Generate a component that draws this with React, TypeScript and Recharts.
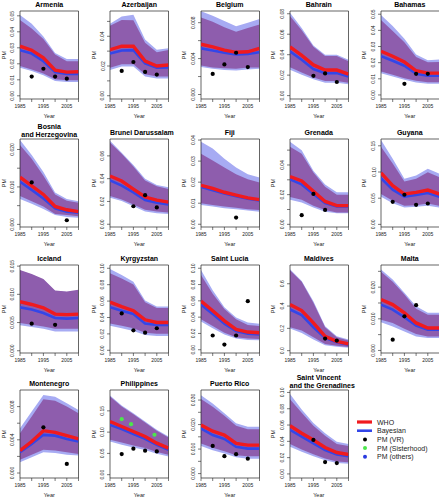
import { ComposedChart, Area, Line, Scatter, XAxis, YAxis, ReferenceArea } from 'recharts';

// estimates are read at 5-year points
const years = [1985, 1990, 1995, 2000, 2005, 2010];
const xTicks = [1985, 1990, 1995, 2000, 2005, 2010];
const xLabels = [1985, 1995, 2005];

const ARMENIA = {
  bayHi: [0.0505, 0.045, 0.037, 0.0268, 0.023, 0.023],
  whoHi: [0.0474, 0.042, 0.0355, 0.0258, 0.0216, 0.0216],
  who: [0.031, 0.0285, 0.0237, 0.016, 0.0148, 0.015],
  bayes: [0.0285, 0.0264, 0.0216, 0.0148, 0.0136, 0.0136],
  whoLo: [0.0186, 0.0165, 0.014, 0.0103, 0.0097, 0.0097],
  bayLo: [0.0175, 0.0155, 0.0128, 0.0093, 0.0087, 0.0087],
  vr: [[1990, 0.012], [1995, 0.0169], [2000, 0.012], [2005, 0.0107]],
};
const AZERBAIJAN = {
  bayHi: [0.0484, 0.0533, 0.0544, 0.0378, 0.031, 0.032],
  whoHi: [0.047, 0.051, 0.0507, 0.0356, 0.0293, 0.0307],
  who: [0.031, 0.0333, 0.0333, 0.0233, 0.02, 0.0207],
  bayes: [0.0284, 0.0304, 0.0307, 0.0218, 0.0189, 0.0191],
  whoLo: [0.0189, 0.0211, 0.0211, 0.0144, 0.0129, 0.0129],
  bayLo: [0.0173, 0.0196, 0.0196, 0.0129, 0.0116, 0.0116],
  vr: [[1990, 0.0167], [1995, 0.0227], [2000, 0.016], [2005, 0.0142]],
};
const BELGIUM = {
  bayHi: [0.00926, 0.00876, 0.0082, 0.0076, 0.008, 0.0084],
  whoHi: [0.00857, 0.0081, 0.0075, 0.007, 0.0074, 0.0078],
  who: [0.0056, 0.0053, 0.00495, 0.0047, 0.00476, 0.00514],
  bayes: [0.00514, 0.0049, 0.00465, 0.00446, 0.00453, 0.0047],
  whoLo: [0.00324, 0.003, 0.00293, 0.00286, 0.003, 0.003],
  bayLo: [0.00305, 0.00286, 0.00274, 0.00267, 0.00278, 0.00286],
  vr: [[1990, 0.00229], [1995, 0.00335], [2000, 0.00465], [2005, 0.00305]],
};
const BAHRAIN = {
  bayHi: [0.081, 0.066, 0.049, 0.04, 0.04, 0.035],
  whoHi: [0.0777, 0.064, 0.0477, 0.0387, 0.0387, 0.0337],
  who: [0.0477, 0.0393, 0.03, 0.025, 0.025, 0.021],
  bayes: [0.0433, 0.035, 0.026, 0.022, 0.022, 0.0187],
  whoLo: [0.0277, 0.0227, 0.0177, 0.0143, 0.0143, 0.0127],
  bayLo: [0.0253, 0.0203, 0.016, 0.0127, 0.0127, 0.011],
  vr: [[1995, 0.0193], [2000, 0.0217], [2005, 0.0133]],
};
const BAHAMAS = {
  bayHi: [0.0496, 0.0427, 0.0348, 0.025, 0.0215, 0.022],
  whoHi: [0.0465, 0.0396, 0.0327, 0.0235, 0.0202, 0.0204],
  who: [0.0271, 0.024, 0.0204, 0.015, 0.0135, 0.0135],
  bayes: [0.024, 0.0212, 0.0181, 0.0131, 0.0119, 0.0119],
  whoLo: [0.0146, 0.0125, 0.0104, 0.0088, 0.0079, 0.0079],
  bayLo: [0.0135, 0.0115, 0.0094, 0.0077, 0.0069, 0.0069],
  vr: [[1995, 0.0069], [2000, 0.0131], [2005, 0.0131]],
};
const BOSNIA = {
  bayHi: [0.0225, 0.0185, 0.014, 0.0085, 0.0068, 0.0062],
  whoHi: [0.0212, 0.0175, 0.013, 0.008, 0.0063, 0.0058],
  who: [0.0126, 0.0103, 0.008, 0.0048, 0.0039, 0.0034],
  bayes: [0.0114, 0.0092, 0.0069, 0.0043, 0.0034, 0.0031],
  whoLo: [0.0076, 0.0062, 0.0048, 0.0028, 0.0025, 0.0022],
  bayLo: [0.0068, 0.0055, 0.0041, 0.0025, 0.002, 0.0018],
  vr: [[1990, 0.0112], [2005, 0.0011]],
};
const BRUNEI = {
  bayHi: [0.0733, 0.0627, 0.052, 0.04, 0.0345, 0.0324],
  whoHi: [0.0718, 0.0618, 0.0506, 0.0385, 0.0333, 0.0309],
  who: [0.0424, 0.0379, 0.0309, 0.0239, 0.0212, 0.0194],
  bayes: [0.0385, 0.0339, 0.0279, 0.0212, 0.0188, 0.0173],
  whoLo: [0.0248, 0.0218, 0.0173, 0.0127, 0.0112, 0.0103],
  bayLo: [0.0233, 0.0203, 0.0158, 0.0112, 0.0097, 0.0091],
  vr: [[1995, 0.0158], [2000, 0.0255], [2005, 0.0148]],
};
const FIJI = {
  bayHi: [0.0392, 0.036, 0.0311, 0.027, 0.0238, 0.0222],
  whoHi: [0.0335, 0.0303, 0.027, 0.0238, 0.0214, 0.0198],
  who: [0.0185, 0.017, 0.0152, 0.0138, 0.0125, 0.0117],
  bayes: [0.0177, 0.0162, 0.0146, 0.0133, 0.0121, 0.0113],
  whoLo: [0.01, 0.0092, 0.0084, 0.0078, 0.0071, 0.0068],
  bayLo: [0.0092, 0.0084, 0.0076, 0.0071, 0.0065, 0.006],
  vr: [[2000, 0.0032]],
};
const GRENADA = {
  bayHi: [0.0556, 0.0499, 0.0361, 0.0269, 0.0216, 0.0216],
  whoHi: [0.0522, 0.0476, 0.0349, 0.0253, 0.02, 0.02],
  who: [0.0322, 0.0292, 0.0223, 0.0154, 0.0126, 0.0126],
  bayes: [0.0303, 0.0269, 0.0205, 0.0143, 0.012, 0.012],
  whoLo: [0.0184, 0.0166, 0.0126, 0.0097, 0.008, 0.008],
  bayLo: [0.0166, 0.0147, 0.0113, 0.0085, 0.0074, 0.0074],
  vr: [[1990, 0.0062], [1995, 0.0205], [2000, 0.0097]],
};
const GUYANA = {
  bayHi: [0.161, 0.1255, 0.0869, 0.0933, 0.106, 0.0965],
  whoHi: [0.148, 0.116, 0.0817, 0.0869, 0.0997, 0.09],
  who: [0.0985, 0.074, 0.0579, 0.0611, 0.0656, 0.0579],
  bayes: [0.0882, 0.0663, 0.0528, 0.056, 0.0598, 0.0528],
  whoLo: [0.0579, 0.045, 0.0354, 0.0367, 0.0399, 0.0354],
  bayLo: [0.0528, 0.0405, 0.0322, 0.0335, 0.0354, 0.0322],
  vr: [[1990, 0.0431], [1995, 0.0566], [2000, 0.0373], [2005, 0.0399]],
};
const ICELAND = {
  bayHi: [0.0142, 0.0135, 0.0126, 0.0106, 0.0104, 0.0107],
  whoHi: [0.0143, 0.0136, 0.0127, 0.0107, 0.0105, 0.0108],
  who: [0.0087, 0.0082, 0.0076, 0.0065, 0.0064, 0.0065],
  bayes: [0.0077, 0.0073, 0.0067, 0.0058, 0.0057, 0.0058],
  whoLo: [0.0049, 0.0046, 0.0043, 0.0039, 0.0039, 0.0039],
  bayLo: [0.0045, 0.0042, 0.0039, 0.0034, 0.0034, 0.0034],
  vr: [[1990, 0.0048], [2000, 0.0046]],
};
const KYRGYZSTAN = {
  bayHi: [0.0992, 0.0917, 0.0835, 0.0607, 0.0533, 0.0533],
  whoHi: [0.0938, 0.0876, 0.0802, 0.0587, 0.0517, 0.0517],
  who: [0.0587, 0.0533, 0.0483, 0.0372, 0.0339, 0.0339],
  bayes: [0.0525, 0.0483, 0.0442, 0.0326, 0.031, 0.031],
  whoLo: [0.0326, 0.0298, 0.0269, 0.0215, 0.0202, 0.0202],
  bayLo: [0.0298, 0.0269, 0.0236, 0.0186, 0.0174, 0.0174],
  vr: [[1990, 0.045], [1995, 0.0244], [2000, 0.0215], [2005, 0.0269]],
};
const SAINT_LUCIA = {
  bayHi: [0.098, 0.073, 0.052, 0.0396, 0.0333, 0.032],
  whoHi: [0.0917, 0.0688, 0.05, 0.0375, 0.0304, 0.0292],
  who: [0.0596, 0.0479, 0.0354, 0.025, 0.0217, 0.0208],
  bayes: [0.0554, 0.0438, 0.0321, 0.0229, 0.0196, 0.0188],
  whoLo: [0.0375, 0.0292, 0.0208, 0.0154, 0.0138, 0.0133],
  bayLo: [0.0346, 0.0263, 0.0188, 0.0138, 0.0121, 0.0117],
  vr: [[1990, 0.0175], [1995, 0.0063], [2000, 0.0175], [2005, 0.0596]],
};
const MALDIVES = {
  bayHi: [0.729, 0.624, 0.444, 0.219, 0.129, 0.099],
  whoHi: [0.72, 0.618, 0.429, 0.21, 0.12, 0.09],
  who: [0.414, 0.36, 0.249, 0.129, 0.084, 0.06],
  bayes: [0.369, 0.318, 0.21, 0.114, 0.075, 0.054],
  whoLo: [0.21, 0.18, 0.12, 0.06, 0.045, 0.033],
  bayLo: [0.198, 0.159, 0.099, 0.048, 0.036, 0.027],
  vr: [[2000, 0.108], [2005, 0.09]],
};
const MALTA = {
  bayHi: [0.0256, 0.0224, 0.0182, 0.014, 0.0119, 0.0119],
  whoHi: [0.0249, 0.0217, 0.0177, 0.0132, 0.0113, 0.0113],
  who: [0.0161, 0.0145, 0.0119, 0.0087, 0.0071, 0.0071],
  bayes: [0.0145, 0.0129, 0.0105, 0.0079, 0.0066, 0.0066],
  whoLo: [0.0097, 0.0087, 0.0069, 0.0052, 0.0044, 0.0044],
  bayLo: [0.0089, 0.0076, 0.006, 0.0044, 0.0039, 0.0039],
  vr: [[1990, 0.0034], [1995, 0.0108], [2000, 0.0143]],
};
const MONTENEGRO = {
  bayHi: [0.0054, 0.0074, 0.0094, 0.0092, 0.0084, 0.0076],
  whoHi: [0.0048, 0.0068, 0.0089, 0.0087, 0.008, 0.0072],
  who: [0.0027, 0.0038, 0.0051, 0.0049, 0.0045, 0.0041],
  bayes: [0.0025, 0.0035, 0.0046, 0.0045, 0.0041, 0.0038],
  whoLo: [0.0016, 0.0022, 0.0028, 0.0027, 0.0025, 0.0023],
  bayLo: [0.0013, 0.0019, 0.0025, 0.0024, 0.0022, 0.0021],
  vr: [[1995, 0.0055], [2005, 0.0011]],
};
const PHILIPPINES = {
  bayHi: [0.186, 0.1625, 0.1445, 0.125, 0.1055, 0.09],
  whoHi: [0.1836, 0.16, 0.142, 0.1227, 0.103, 0.0875],
  who: [0.125, 0.1133, 0.1016, 0.0898, 0.0742, 0.0625],
  bayes: [0.117, 0.107, 0.0953, 0.0844, 0.0703, 0.0586],
  whoLo: [0.082, 0.0758, 0.0688, 0.0625, 0.0531, 0.0469],
  bayLo: [0.078, 0.0703, 0.064, 0.0578, 0.0492, 0.043],
  vr: [[1990, 0.0484], [1995, 0.061], [2000, 0.0563], [2005, 0.0547]],
  sis: [[1990, 0.1305], [1994, 0.1188], [2004, 0.0938]],
};
const PUERTO_RICO = {
  bayHi: [0.032, 0.0286, 0.0246, 0.0205, 0.0191, 0.0191],
  whoHi: [0.0304, 0.0273, 0.0236, 0.0195, 0.0181, 0.0181],
  who: [0.0198, 0.0173, 0.0157, 0.0123, 0.0116, 0.0116],
  bayes: [0.0184, 0.0157, 0.0141, 0.0109, 0.0102, 0.0102],
  whoLo: [0.0123, 0.0105, 0.0091, 0.0075, 0.0071, 0.0071],
  bayLo: [0.0113, 0.0095, 0.0082, 0.0067, 0.0061, 0.0061],
  vr: [[1990, 0.0113], [1995, 0.0071], [2000, 0.0079], [2005, 0.0061]],
};
const SAINT_VINCENT = {
  bayHi: [0.098, 0.079, 0.0625, 0.05, 0.0396, 0.0367],
  whoHi: [0.0917, 0.075, 0.0592, 0.0467, 0.0367, 0.0342],
  who: [0.0592, 0.05, 0.0417, 0.0325, 0.0263, 0.0238],
  bayes: [0.0542, 0.0458, 0.0375, 0.0292, 0.0238, 0.0217],
  whoLo: [0.0367, 0.03, 0.0242, 0.0188, 0.0154, 0.0142],
  bayLo: [0.0333, 0.0271, 0.0217, 0.0167, 0.0133, 0.0125],
  vr: [[1995, 0.0417], [2000, 0.0146], [2005, 0.0133]],
};

// title, data, y range, ticks, labelled ticks, decimals
const panels = [
  { title: ['Armenia'], d: ARMENIA, dom: [-0.002, 0.053], ticks: [0, 0.01, 0.02, 0.03, 0.04, 0.05], lab: [0, 0.01, 0.02, 0.03, 0.04, 0.05], dec: 2 },
  { title: ['Azerbaijan'], d: AZERBAIJAN, dom: [-0.0022, 0.057], ticks: [0, 0.01, 0.02, 0.03, 0.04, 0.05], lab: [0, 0.02, 0.04], dec: 2 },
  { title: ['Belgium'], d: BELGIUM, dom: [-0.0005, 0.0093], ticks: [0, 0.002, 0.004, 0.006, 0.008], lab: [0, 0.004, 0.008], dec: 3 },
  { title: ['Bahrain'], d: BAHRAIN, dom: [-0.0033, 0.0827], ticks: [0, 0.02, 0.04, 0.06, 0.08], lab: [0, 0.02, 0.04, 0.06, 0.08], dec: 2 },
  { title: ['Bahamas'], d: BAHAMAS, dom: [-0.0025, 0.052], ticks: [0, 0.01, 0.02, 0.03, 0.04, 0.05], lab: [0, 0.01, 0.02, 0.03, 0.04, 0.05], dec: 2 },
  { title: ['Bosnia', 'and Herzegovina'], d: BOSNIA, dom: [-0.0007, 0.0228], ticks: [0, 0.005, 0.01, 0.015, 0.02], lab: [0, 0.01, 0.02], dec: 3 },
  { title: ['Brunei Darussalam'], d: BRUNEI, dom: [-0.0024, 0.0748], ticks: [0, 0.02, 0.04, 0.06], lab: [0, 0.02, 0.04, 0.06], dec: 2 },
  { title: ['Fiji'], d: FIJI, dom: [-0.0013, 0.0405], ticks: [0, 0.01, 0.02, 0.03, 0.04], lab: [0, 0.01, 0.02, 0.03, 0.04], dec: 2 },
  { title: ['Grenada'], d: GRENADA, dom: [-0.0018, 0.0575], ticks: [0, 0.01, 0.02, 0.03, 0.04, 0.05], lab: [0, 0.02, 0.04], dec: 2 },
  { title: ['Guyana'], d: GUYANA, dom: [-0.005, 0.163], ticks: [0, 0.05, 0.1, 0.15], lab: [0, 0.05, 0.1, 0.15], dec: 2 },
  { title: ['Iceland'], d: ICELAND, dom: [-0.0004, 0.0152], ticks: [0, 0.005, 0.01, 0.015], lab: [0, 0.005, 0.01, 0.015], dec: 3 },
  { title: ['Kyrgyzstan'], d: KYRGYZSTAN, dom: [-0.0033, 0.104], ticks: [0, 0.02, 0.04, 0.06, 0.08, 0.1], lab: [0, 0.02, 0.04, 0.06, 0.08, 0.1], dec: 2 },
  { title: ['Saint Lucia'], d: SAINT_LUCIA, dom: [-0.004, 0.104], ticks: [0, 0.02, 0.04, 0.06, 0.08, 0.1], lab: [0, 0.02, 0.04, 0.06, 0.08, 0.1], dec: 2 },
  { title: ['Maldives'], d: MALDIVES, dom: [-0.021, 0.768], ticks: [0, 0.2, 0.4, 0.6], lab: [0, 0.2, 0.4, 0.6], dec: 1 },
  { title: ['Malta'], d: MALTA, dom: [-0.0008, 0.027], ticks: [0, 0.005, 0.01, 0.015, 0.02, 0.025], lab: [0, 0.01, 0.02], dec: 3 },
  { title: ['Montenegro'], d: MONTENEGRO, dom: [-0.0006, 0.01], ticks: [0, 0.002, 0.004, 0.006, 0.008], lab: [0, 0.004, 0.008], dec: 3 },
  { title: ['Philippines'], d: PHILIPPINES, dom: [-0.0078, 0.199], ticks: [0, 0.05, 0.1, 0.15], lab: [0, 0.05, 0.1, 0.15], dec: 2 },
  { title: ['Puerto Rico'], d: PUERTO_RICO, dom: [-0.0018, 0.0341], ticks: [0, 0.005, 0.01, 0.015, 0.02, 0.025, 0.03], lab: [0, 0.01, 0.02, 0.03], dec: 3 },
  { title: ['Saint Vincent', 'and the Grenadines'], d: SAINT_VINCENT, dom: [-0.005, 0.103], ticks: [0, 0.02, 0.04, 0.06, 0.08, 0.1], lab: [0, 0.02, 0.04, 0.06, 0.08, 0.1], dec: 2 },
];

const legendItems = [
  { label: 'WHO', kind: 'line', color: '#f01a1e' },
  { label: 'Bayesian', kind: 'line', color: '#3346e8' },
  { label: 'PM (VR)', kind: 'dot', color: '#000000' },
  { label: 'PM (Sisterhood)', kind: 'dot', color: '#4ce64c' },
  { label: 'PM (others)', kind: 'dot', color: '#2a3be0' },
];

const FONT = '"Liberation Sans", Arial, Helvetica, sans-serif';
const BAND_BLUE = '#a7abf3';
const BAND_PURPLE = '#8e5dad';
const RED = '#f01a1e';
const BLUE = '#3346e8';
const INK = '#222';

const COL_X = [20, 110, 200.5, 289.5, 380.5];
const ROW_Y = [11, 139, 265, 390];
const BOX_W = 58.5;
const BOX_H = 88;

function XTick(props: any) {
  const { x, y, payload } = props;
  if (!xLabels.includes(payload.value)) return <g />;
  return (
    <text x={x} y={y + 4} textAnchor="middle" fontSize={5} fill={INK} fontFamily={FONT}>
      {payload.value}
    </text>
  );
}

function makeYTick(lab: number[], dec: number) {
  return (props: any) => {
    const { x, y, payload } = props;
    const v = payload.value;
    if (!lab.some((l) => Math.abs(l - v) < 1e-9)) return <g />;
    return (
      <text x={x} y={y} transform={`rotate(-90 ${x} ${y})`} textAnchor="middle" fontSize={5} fill={INK} fontFamily={FONT}>
        {v.toFixed(dec)}
      </text>
    );
  };
}

function Dot(color: string) {
  return (p: any) => <circle cx={p.cx} cy={p.cy} r={2.1} fill={color} />;
}

function Panel({ p, col, row }: { p: any; col: number; row: number }) {
  const bx = COL_X[col];
  const by = ROW_Y[row];
  const c = p.d;
  const table = years.map((year, i) => ({
    year,
    who: c.who[i],
    bayes: c.bayes[i],
    whoBand: [c.whoLo[i], c.whoHi[i]],
    bayBand: [c.bayLo[i], c.bayHi[i]],
  }));
  const vr = c.vr.map(([year, pm]: number[]) => ({ year, pm }));
  const sis = (c.sis || []).map(([year, pm]: number[]) => ({ year, pm }));
  const two = p.title.length === 2;
  return (
    <>
      <div style={{ position: 'absolute', left: bx - 20, top: by - 11 }}>
        <ComposedChart width={80} height={124} data={table} margin={{ top: 11, right: 1.5, bottom: 0, left: 0 }}>
          <XAxis
            dataKey="year" type="number" domain={[1985, 2010]} ticks={xTicks} interval={0}
            tick={<XTick />} tickSize={3} tickMargin={2} tickLine={{ stroke: INK, strokeWidth: 0.6 }}
            axisLine={false} height={25} allowDataOverflow
          />
          <YAxis
            type="number" domain={p.dom} ticks={p.ticks} interval={0} width={20}
            tick={makeYTick(p.lab, p.dec)} tickSize={3} tickMargin={2.5}
            tickLine={{ stroke: INK, strokeWidth: 0.6 }} axisLine={false} allowDataOverflow
          />
          <Area dataKey="bayBand" type="linear" fill={BAND_BLUE} fillOpacity={1} stroke="none" isAnimationActive={false} />
          <Area dataKey="whoBand" type="linear" fill={BAND_PURPLE} fillOpacity={1} stroke="none" isAnimationActive={false} />
          <Line dataKey="bayes" type="linear" stroke={BLUE} strokeWidth={2.6} dot={false} isAnimationActive={false} />
          <Line dataKey="who" type="linear" stroke={RED} strokeWidth={3.4} dot={false} isAnimationActive={false} />
          <Scatter data={vr} dataKey="pm" shape={Dot('#000')} isAnimationActive={false} />
          {sis.length > 0 && <Scatter data={sis} dataKey="pm" shape={Dot('#4ce64c')} isAnimationActive={false} />}
          <ReferenceArea
            x1={1985} x2={2010} y1={p.dom[0]} y2={p.dom[1]} fill="#fff" fillOpacity={0}
            stroke={INK} strokeWidth={0.7} ifOverflow="visible"
          />
        </ComposedChart>
      </div>
      <div
        style={{
          position: 'absolute', left: bx, width: BOX_W, top: by - (two ? 16.3 : 10.3),
          fontSize: 7, fontWeight: 'bold', lineHeight: '8px', textAlign: 'center', whiteSpace: 'nowrap',
        }}
      >
        {p.title.map((t: string) => <div key={t}>{t}</div>)}
      </div>
      <div
        style={{
          position: 'absolute', left: bx - 26.5, width: 20, top: by + BOX_H / 2 - 4, height: 8,
          lineHeight: '8px', fontSize: 5.5, textAlign: 'center', transform: 'rotate(-90deg)', color: INK,
        }}
      >
        PM
      </div>
      <div
        style={{
          position: 'absolute', left: bx, width: BOX_W, top: by + BOX_H + 13,
          lineHeight: '8px', fontSize: 5.5, textAlign: 'center', color: INK,
        }}
      >
        Year
      </div>
    </>
  );
}

function Legend() {
  return (
    <svg style={{ position: 'absolute', left: 355, top: 416 }} width={84} height={48}>
      {legendItems.map((it, i) => {
        const y = 6 + i * 8.7;
        return (
          <g key={it.label}>
            {it.kind === 'line' ? (
              <line x1={2} x2={17} y1={y} y2={y} stroke={it.color} strokeWidth={i === 0 ? 3.2 : 2.6} />
            ) : (
              <circle cx={10} cy={y} r={2} fill={it.color} />
            )}
            <text x={22} y={y + 2.5} fontSize={7} fill={INK} fontFamily={FONT}>{it.label}</text>
          </g>
        );
      })}
    </svg>
  );
}

export default function App() {
  return (
    <div style={{ position: 'relative', width: 439, height: 500, overflow: 'hidden', background: '#fff', fontFamily: FONT }}>
      <style>{'body{margin:0}'}</style>
      {panels.map((p, i) => (
        <Panel key={p.title[0]} p={p} col={i % 5} row={Math.floor(i / 5)} />
      ))}
      <Legend />
    </div>
  );
}
